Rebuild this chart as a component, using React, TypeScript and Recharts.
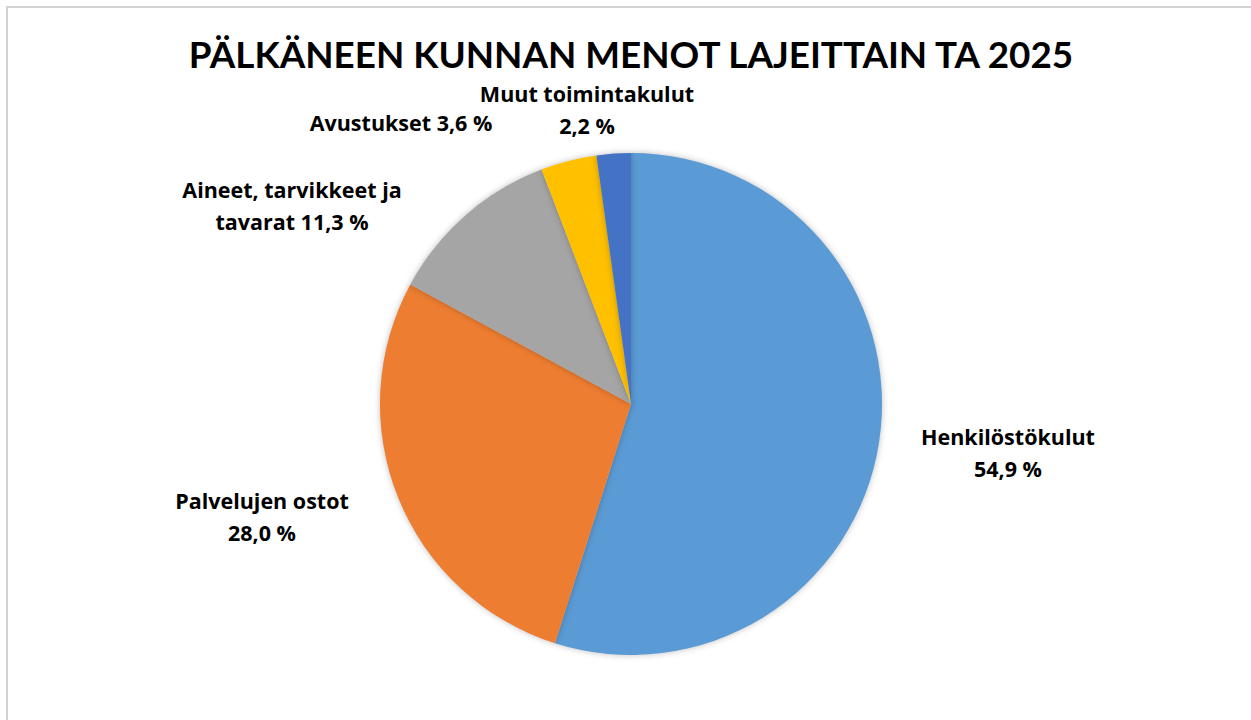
import { Pie, PieChart, Cell } from "recharts";

// Menot lajeittain, osuus prosentteina (TA 2025)
const categories = [
  "Henkilöstökulut",
  "Palvelujen ostot",
  "Aineet, tarvikkeet ja tavarat",
  "Avustukset",
  "Muut toimintakulut",
];
const shares = [54.9, 28.0, 11.3, 3.6, 2.2];
const colors = ["#5B9BD5", "#ED7D31", "#A5A5A5", "#FFC000", "#4472C4"];

// label text is split into lines the way Excel wrapped them
const labelLines = [
  ["Henkilöstökulut", "{v}"],
  ["Palvelujen ostot", "{v}"],
  ["Aineet, tarvikkeet ja", "tavarat {v}"],
  ["Avustukset {v}"],
  ["Muut toimintakulut", "{v}"],
];

// label block centre relative to pie centre
const labelOffsets = [
  { dx: 377, dy: 48 },
  { dx: -369, dy: 112 },
  { dx: -339, dy: -199 },
  { dx: -230, dy: -282 },
  { dx: -44, dy: -295 },
];

const W = 1243;
const H = 712;
const LINE_H = 32;
const TITLE_FONT = "Lato, 'Open Sans', sans-serif";
const LABEL_FONT = "'Open Sans', Lato, sans-serif";

const data = categories.map((name, i) => ({ name, value: shares[i] }));

const fmt = (v: number) => `${v.toFixed(1).replace(".", ",")} %`;

function PieLabel(props: any) {
  const { cx, cy, index, value } = props;
  const off = labelOffsets[index];
  const lines = labelLines[index].map((l) => l.replace("{v}", fmt(value)));
  const x = cx + off.dx;
  const top = cy + off.dy - ((lines.length - 1) * LINE_H) / 2;
  return (
    <text
      x={x}
      y={top}
      textAnchor="middle"
      dominantBaseline="central"
      fill="#000"
      fontSize={21.5}
      fontWeight={700}
      fontFamily={LABEL_FONT}
    >
      {lines.map((l, i) => (
        <tspan key={i} x={x} y={top + i * LINE_H}>
          {l}
        </tspan>
      ))}
    </text>
  );
}

export default function App() {
  return (
    <>
      <style>{`
        html, body { margin: 0; overflow: hidden; background: #fff; }
        .recharts-pie-sector path { filter: drop-shadow(0 0 3px rgba(0,0,0,0.25)); }
      `}</style>
      {/* chart area: only its left and top frame edges fall inside the picture */}
      <div
        style={{
          position: "absolute",
          left: 6,
          top: 6,
          width: W + 2,
          height: H + 2,
          borderLeft: "2px solid #d2d2d2",
          borderTop: "2px solid #d2d2d2",
          boxSizing: "border-box",
          overflow: "hidden",
        }}
      >
        <div
          style={{
            position: "absolute",
            left: 0,
            top: 26,
            width: 1246,
            textAlign: "center",
            fontFamily: TITLE_FONT,
            fontWeight: 700,
            fontSize: 36.8,
            lineHeight: "40px",
            color: "#000",
            whiteSpace: "nowrap",
          }}
        >
          PÄLKÄNEEN KUNNAN MENOT LAJEITTAIN TA 2025
        </div>
        <PieChart
          width={W}
          height={H}
          margin={{ top: 0, right: 0, bottom: 0, left: 0 }}
          style={{ position: "absolute", left: 0, top: 0 }}
        >
          <Pie
            data={data}
            dataKey="value"
            nameKey="name"
            cx={623}
            cy={396}
            outerRadius={251}
            startAngle={90}
            endAngle={-270}
            stroke="none"
            label={PieLabel}
            labelLine={false}
            isAnimationActive={false}
          >
            {data.map((d, i) => (
              <Cell key={d.name} fill={colors[i]} />
            ))}
          </Pie>
        </PieChart>
      </div>
    </>
  );
}
